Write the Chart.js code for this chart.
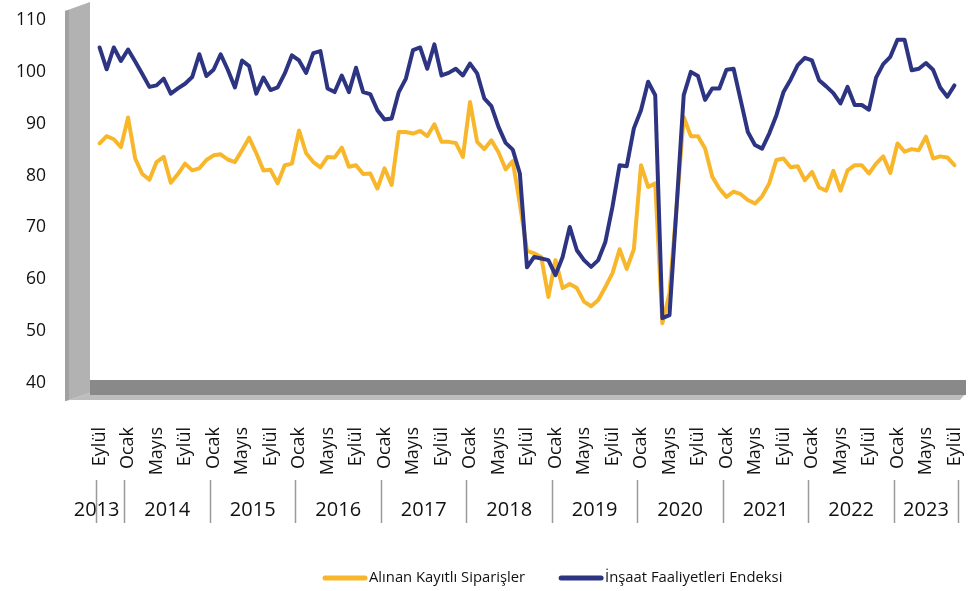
<!DOCTYPE html>
<html>
<head>
<meta charset="utf-8">
<script src="https://cdn.jsdelivr.net/npm/chart.js@4.4.1/dist/chart.umd.min.js"></script>
<style>
  html, body { margin: 0; padding: 0; background: #fff; }
</style>
</head>
<body>
<canvas id="grafik" width="974" height="591"></canvas>
<script>
// Seri adları
const seriNames = ['Alınan Kayıtlı Siparişler', 'İnşaat Faaliyetleri Endeksi'];

// Eylül 2013 - Eylül 2023, aylık
const baslangicYil = 2013;
const baslangicAy = 9;
const aySayisi = 121;
const ayEtiketleri = { 1: 'Ocak', 5: 'Mayıs', 9: 'Eylül' };

const siparisler = [
  86.2, 87.6, 87.0, 85.5, 91.2, 83.3, 80.3, 79.2, 82.6, 83.6, 78.6, 80.3,
  82.3, 81.0, 81.4, 83.0, 83.9, 84.1, 83.1, 82.6, 84.9, 87.3, 84.3, 81.0,
  81.1, 78.5, 82.0, 82.3, 88.7, 84.3, 82.6, 81.6, 83.6, 83.5, 85.4, 81.7,
  82.0, 80.3, 80.4, 77.5, 81.4, 78.2, 88.4, 88.4, 88.1, 88.6, 87.6, 89.9,
  86.5, 86.5, 86.3, 83.6, 94.2, 86.5, 85.1, 86.8, 84.5, 81.2, 82.8, 74.5,
  65.5, 65.0, 64.3, 56.6, 63.7, 58.3, 59.1, 58.3, 55.7, 54.8, 56.0, 58.5,
  61.2, 65.8, 62.0, 65.8, 82.0, 77.8, 78.5, 51.5, 57.3, 74.0, 91.3, 87.6,
  87.6, 85.2, 79.8, 77.5, 75.9, 76.9, 76.4, 75.3, 74.6, 76.0, 78.5, 83.0,
  83.3, 81.6, 81.8, 79.1, 80.7, 77.7, 77.1, 80.9, 77.1, 81.0, 82.0, 82.0,
  80.4, 82.3, 83.7, 80.5, 86.2, 84.6, 85.1, 84.9, 87.5, 83.3, 83.7, 83.5,
  82.0
];

const faaliyet = [
  104.7, 100.5, 104.7, 102.1, 104.3, 102.0, 99.6, 97.1, 97.4, 98.7, 95.8, 96.8,
  97.7, 99.0, 103.4, 99.2, 100.4, 103.4, 100.4, 97.0, 102.2, 101.1, 95.8, 98.9,
  96.5, 97.0, 99.7, 103.2, 102.2, 99.8, 103.6, 104.0, 96.8, 96.1, 99.3, 96.1,
  100.8, 96.1, 95.7, 92.6, 90.8, 91.0, 96.1, 98.7, 104.2, 104.7, 100.6, 105.3,
  99.3, 99.8, 100.6, 99.3, 101.6, 99.7, 94.9, 93.4, 89.4, 86.3, 85.0, 80.4,
  62.3, 64.3, 64.0, 63.7, 60.8, 64.3, 70.1, 65.6, 63.7, 62.4, 63.7, 67.2,
  74.0, 82.0, 81.8, 89.1, 92.6, 98.1, 95.5, 52.5, 53.1, 74.0, 95.5, 100.0,
  99.2, 94.6, 96.8, 96.8, 100.4, 100.6, 94.5, 88.4, 85.9, 85.2, 88.1, 91.6,
  96.1, 98.5, 101.3, 102.7, 102.2, 98.4, 97.2, 95.9, 93.9, 97.1, 93.6, 93.6,
  92.7, 98.9, 101.5, 102.9, 106.2, 106.2, 100.3, 100.6, 101.7, 100.4, 97.0, 95.2,
  97.4
];

const sari = '#F8B62B';
const lacivert = '#2D3583';
const yazi = '"Open Sans", sans-serif';

const aylar = [];
for (let i = 0; i < aySayisi; i++) {
  const m = baslangicAy - 1 + i;
  const yil = baslangicYil + Math.floor(m / 12);
  const ay = (m % 12) + 1;
  aylar.push(yil + '-' + String(ay).padStart(2, '0'));
}

// 3B görünümlü gri duvar ve zemin
const duvarlar = {
  id: 'duvarlar',
  beforeDatasetsDraw(chart) {
    const { ctx, chartArea: a } = chart;
    const L = a.left, B = a.bottom, T = a.top, R = a.right;
    ctx.save();
    ctx.fillStyle = '#bdbdbd';
    ctx.beginPath();
    ctx.moveTo(L - 27, B + 17); ctx.lineTo(L - 6, B + 10); ctx.lineTo(R + 8, B + 10);
    ctx.lineTo(R + 2, B + 17); ctx.closePath(); ctx.fill();
    ctx.fillStyle = '#898989';
    ctx.fillRect(L - 6, B - 3, R + 8 - (L - 6), 15);
    ctx.fillStyle = '#b2b2b2';
    ctx.beginPath();
    ctx.moveTo(L - 31, T - 9); ctx.lineTo(L - 6, T - 18); ctx.lineTo(L - 6, B + 10);
    ctx.lineTo(L - 27, B + 17); ctx.lineTo(L - 31, B + 18); ctx.closePath(); ctx.fill();
    ctx.fillStyle = '#a1a1a1';
    ctx.beginPath();
    ctx.moveTo(L - 31, T - 9); ctx.lineTo(L - 27, T - 10); ctx.lineTo(L - 27, B + 17);
    ctx.lineTo(L - 31, B + 18); ctx.closePath(); ctx.fill();
    ctx.restore();
  }
};

// Yıl satırı ve ayraçlar
const yillar = {
  id: 'yillar',
  afterDraw(chart) {
    const { ctx, chartArea: a } = chart;
    const x = chart.scales.x;
    const yarim = (x.getPixelForValue(1) - x.getPixelForValue(0)) / 2;
    const liste = [...new Set(aylar.map(s => s.slice(0, 4)))];
    ctx.save();
    ctx.strokeStyle = '#9a9a9a';
    ctx.lineWidth = 1.5;
    ctx.font = '20px ' + yazi;
    ctx.fillStyle = '#111';
    ctx.textAlign = 'center';
    ctx.textBaseline = 'middle';
    liste.forEach((yil, k) => {
      const ilk = aylar.findIndex(s => s.startsWith(yil));
      let son = ilk;
      while (son + 1 < aylar.length && aylar[son + 1].startsWith(yil)) son++;
      const x0 = x.getPixelForValue(ilk) - yarim;
      const x1 = x.getPixelForValue(son) + yarim;
      const sinirlar = k === liste.length - 1 ? [x0, x1] : [x0];
      sinirlar.forEach(px => {
        ctx.beginPath();
        ctx.moveTo(Math.round(px) + 0.5, a.bottom + 97);
        ctx.lineTo(Math.round(px) + 0.5, a.bottom + 140);
        ctx.stroke();
      });
      const w = ctx.measureText(yil).width;
      const cx = Math.min((x0 + x1) / 2, x1 - 5 - w / 2);
      ctx.fillText(yil, cx, a.bottom + 127);
    });
    ctx.restore();
  }
};

// Alt lejant
const lejant = {
  id: 'lejant',
  afterDraw(chart) {
    const ctx = chart.ctx;
    const y = 578;
    let px = 323;
    ctx.save();
    ctx.font = '14.8px ' + yazi;
    ctx.textBaseline = 'middle';
    ctx.textAlign = 'left';
    chart.data.datasets.forEach(ds => {
      ctx.strokeStyle = ds.borderColor;
      ctx.lineWidth = 5;
      ctx.lineCap = 'round';
      ctx.beginPath();
      ctx.moveTo(px + 2, y);
      ctx.lineTo(px + 42, y);
      ctx.stroke();
      ctx.fillStyle = '#111';
      ctx.fillText(ds.label, px + 46, y);
      px += 46 + ctx.measureText(ds.label).width + 34;
    });
    ctx.restore();
  }
};

new Chart(document.getElementById('grafik'), {
  type: 'line',
  data: {
    labels: aylar,
    datasets: [
      {
        label: seriNames[0], data: siparisler, borderColor: sari, backgroundColor: sari,
        borderWidth: 4, pointRadius: 0, tension: 0, borderJoinStyle: 'round', borderCapStyle: 'round', order: 1
      },
      {
        label: seriNames[1], data: faaliyet, borderColor: lacivert, backgroundColor: lacivert,
        borderWidth: 4, pointRadius: 0, tension: 0, borderJoinStyle: 'round', borderCapStyle: 'round', order: 0
      }
    ]
  },
  options: {
    responsive: false,
    animation: false,
    devicePixelRatio: 1,
    layout: { padding: { top: 20, right: 16, bottom: 0, left: 0 } },
    plugins: { legend: { display: false }, tooltip: { enabled: false } },
    scales: {
      x: {
        type: 'category',
        offset: true,
        grid: { display: false, drawTicks: false },
        border: { display: false },
        ticks: {
          autoSkip: false, minRotation: 90, maxRotation: 90, padding: 44,
          color: '#111', font: { family: yazi, size: 18 },
          callback: (v, i) => ayEtiketleri[+aylar[i].slice(5)] || ''
        },
        afterFit: s => { s.height = 208; s.paddingLeft = 0; s.paddingRight = 0; }
      },
      y: {
        min: 40, max: 110,
        grid: { display: false, drawTicks: false },
        border: { display: false },
        ticks: { stepSize: 10, padding: 50, color: '#111', font: { family: yazi, size: 17.5 } },
        afterFit: s => { s.width = 96; s.paddingTop = 10; s.paddingBottom = 10; }
      }
    }
  },
  plugins: [duvarlar, yillar, lejant]
});
</script>
</body>
</html>
